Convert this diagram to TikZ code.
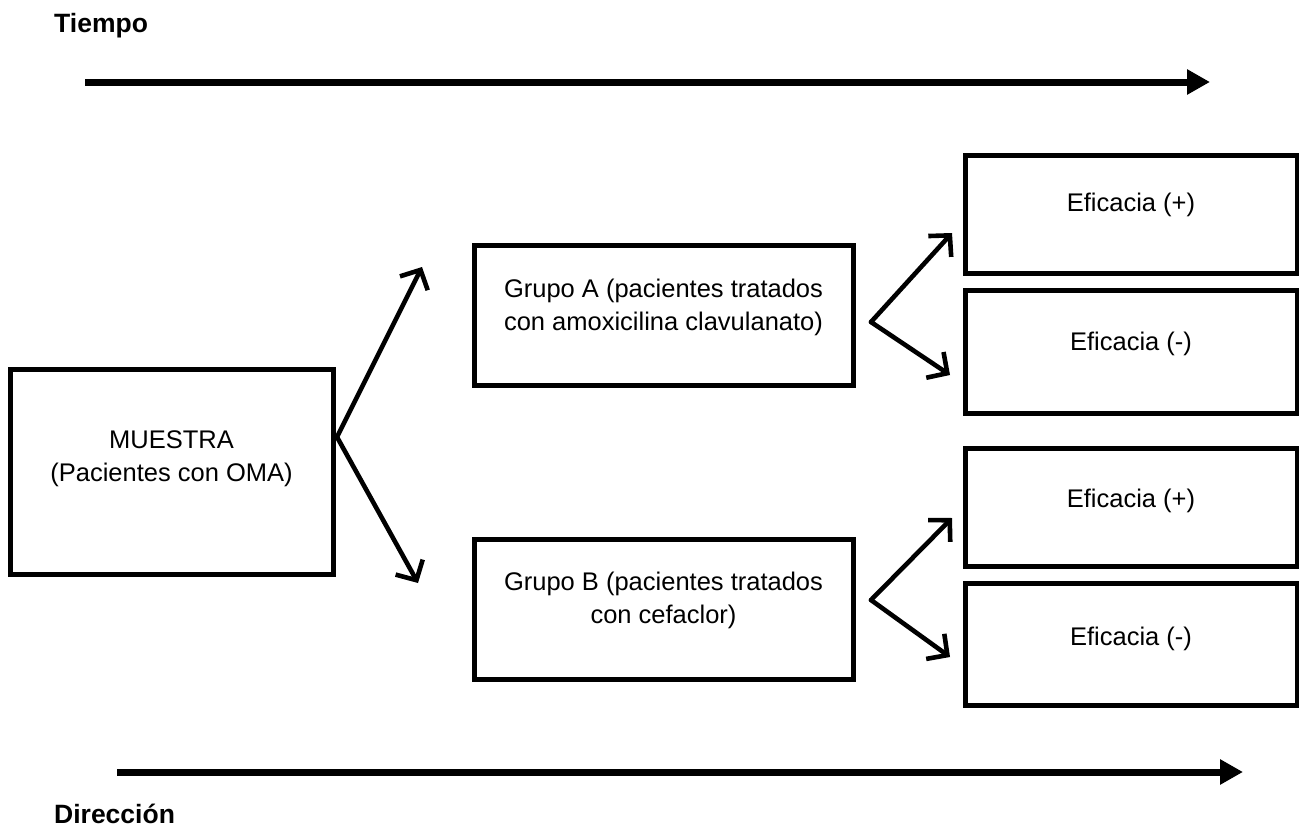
\documentclass[tikz,border=0pt]{standalone}
\usepackage{fontspec}
\setmainfont{Liberation Sans}
\usetikzlibrary{arrows.meta}
\begin{document}
\begin{tikzpicture}[x=1pt,y=-1pt,
  box/.style={draw, line width=5pt, rectangle, inner sep=0pt},
  txt/.style={font=\fontsize{25.5}{33}\selectfont, align=center, anchor=base, inner sep=0pt},
  lbl/.style={font=\fontsize{26.5}{30}\selectfont\bfseries, anchor=base west, inner sep=0pt},
  branch/.style={line width=4.6pt, line cap=round, line join=round, -{Straight Barb[length=15pt,width=31pt,line width=4.6pt]}},
  timeline/.style={line width=7pt, -{Triangle[length=23pt,width=24pt]}}]
\useasboundingbox (0,0) rectangle (1299,833);

% boxes
\node[box, minimum width=323pt, minimum height=205pt] (M) at (171.5,471.5) {};
\node[box, minimum width=379pt, minimum height=140pt] (A) at (663.5,315) {};
\node[box, minimum width=379pt, minimum height=140pt] (B) at (663.5,609) {};
\node[box, minimum width=332pt, minimum height=118pt] (E1) at (1131,214) {};
\node[box, minimum width=332pt, minimum height=123pt] (E2) at (1131,351.5) {};
\node[box, minimum width=332pt, minimum height=118pt] (E3) at (1131,507) {};
\node[box, minimum width=332pt, minimum height=122pt] (E4) at (1131,644) {};

% texts (multi-line nodes: base = last line)
\node[txt] (tM) at (171.5,481) {MUESTRA\\(Pacientes con OMA)};
\node[txt] (tA) at (663.5,330) {Grupo A (pacientes tratados\\con amoxicilina clavulanato)};
\node[txt] (tB) at (663.5,623) {Grupo B (pacientes tratados\\con cefaclor)};
\node[txt] (t1) at (1131,211) {Eficacia (+)};
\node[txt] (t2) at (1131,350) {Eficacia (-)};
\node[txt] (t3) at (1131,507) {Eficacia (+)};
\node[txt] (t4) at (1131,645) {Eficacia (-)};

\node[lbl] (tiempo) at (54,32) {Tiempo};
\node[lbl] (dir) at (54,823) {Dirección};

% branch points and tips
\coordinate (vM) at (337,437);
\coordinate (mA) at (422,267);
\coordinate (mB) at (418,583);
\coordinate (vA) at (871,322);
\coordinate (a1) at (952,233);
\coordinate (a2) at (950,375);
\coordinate (vB) at (871,600);
\coordinate (b1) at (952,518);
\coordinate (b2) at (950,657);

\draw[branch] (vM) -- (mA);
\draw[branch] (vM) -- (mB);
\draw[branch] (vA) -- (a1);
\draw[branch] (vA) -- (a2);
\draw[branch] (vB) -- (b1);
\draw[branch] (vB) -- (b2);

% timelines
\coordinate (t0) at (85,82);
\coordinate (t1e) at (1210,82);
\coordinate (d0) at (117,772);
\coordinate (d1) at (1243,772);
\draw[timeline] (t0) -- (t1e);
\draw[timeline] (d0) -- (d1);
\end{tikzpicture}
\end{document}
